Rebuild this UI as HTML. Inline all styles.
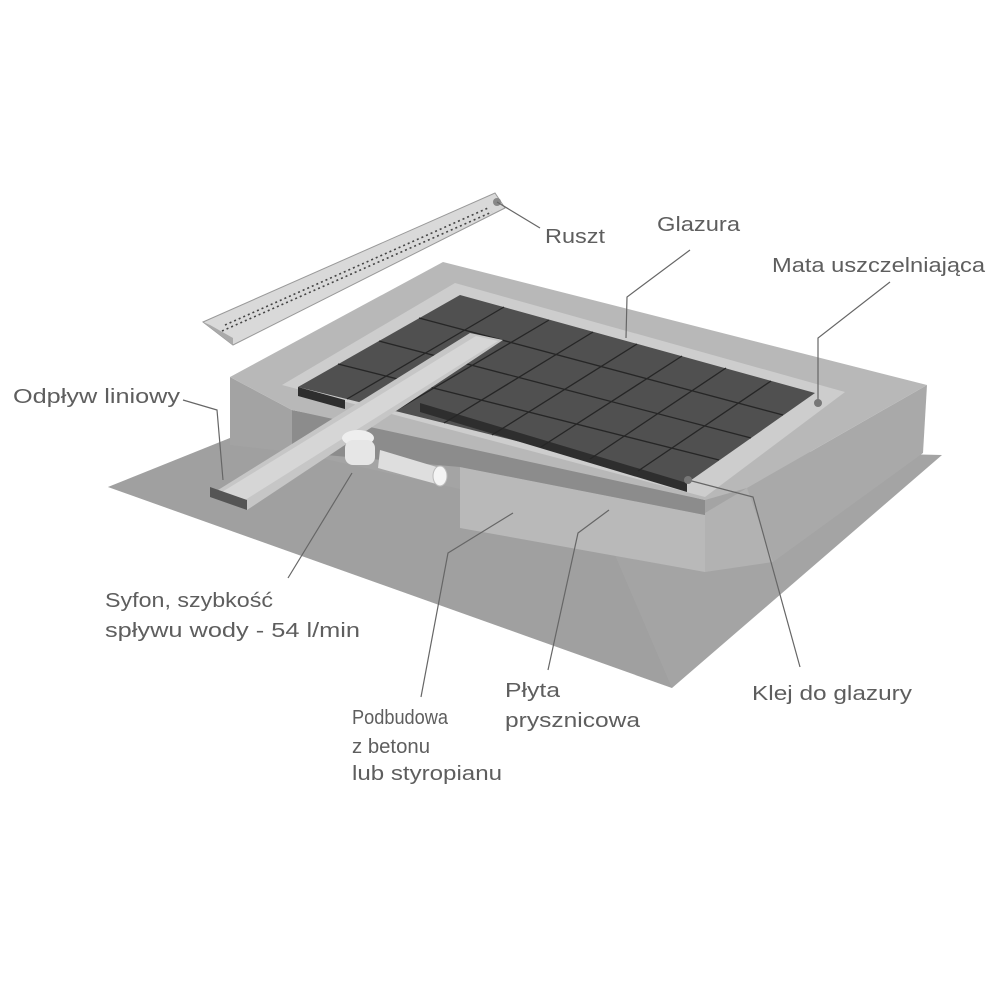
<!DOCTYPE html>
<html><head><meta charset="utf-8"><style>
html,body{margin:0;padding:0;background:#fff;}
svg{display:block}
text{font-family:"Liberation Sans",sans-serif;font-size:20px;fill:#5e5e5e;}
</style></head><body>
<svg width="1000" height="1000" viewBox="0 0 1000 1000" xmlns="http://www.w3.org/2000/svg">
<!-- floor -->
<polygon points="108,487 230,438 942,455 672,688" fill="#a4a4a4"/>
<polygon points="108,487 230,438 600,520 672,688" fill="#9a9a9a" opacity="0.4"/>
<!-- box right face -->
<polygon points="747,488 927,385 923,453 773,562 747,560" fill="#a9a9a9"/>
<!-- concrete front (podbudowa) -->
<polygon points="460,467 705,515 705,572 460,528" fill="#b9b9b9"/>
<polygon points="705,513 747,488 773,562 705,572" fill="#b2b2b2"/>
<!-- recess under tiles -->
<polygon points="292,410 470,445 705,500 705,515 460,467 292,452" fill="#8c8c8c"/>
<polygon points="420,410 705,478 705,500 430,432" fill="#d4d4d4"/>
<!-- left block front -->
<polygon points="230,377 292,410 292,452 230,445" fill="#a3a3a3"/>
<!-- box top -->
<polygon points="230,377 443,262 927,385 747,488 705,500 292,410" fill="#b8b8b8"/>
<!-- mata -->
<polygon points="282,385 455,283 845,392 705,497" fill="#cdcdcd"/>
<!-- tiles -->
<polygon points="298,387 460,295 815,393 687,483" fill="#505050"/>
<polygon points="420,403 687,483 687,492 420,412" fill="#2e2e2e"/>
<polygon points="298,387 345,400 345,409 298,396" fill="#2e2e2e"/>
<g stroke="#262626" stroke-width="1.3">
<line x1="504" y1="307" x2="347" y2="399"/>
<line x1="549" y1="320" x2="395" y2="411"/>
<line x1="593" y1="332" x2="444" y2="423"/>
<line x1="637" y1="344" x2="492" y2="435"/>
<line x1="682" y1="356" x2="541" y2="447"/>
<line x1="726" y1="368" x2="590" y2="459"/>
<line x1="771" y1="381" x2="638" y2="471"/>
<line x1="419" y1="318" x2="783" y2="415"/>
<line x1="379" y1="341" x2="751" y2="438"/>
<line x1="338" y1="364" x2="719" y2="460"/>
</g>
<!-- drain -->
<polygon points="470,333 503,340 247,510 210,495" fill="#c6c6c6"/>
<polygon points="476,336 498,341 245,500 222,492" fill="#d6d6d6"/>
<polygon points="210,487 247,500 247,510 210,497" fill="#555"/>
<!-- siphon -->
<ellipse cx="358" cy="438" rx="16" ry="8" fill="#eee"/>
<rect x="345" y="440" width="30" height="25" rx="8" fill="#e6e6e6"/>
<polygon points="380,450 440,468 440,485 378,468" fill="#dedede"/>
<ellipse cx="440" cy="476" rx="7" ry="10" fill="#f4f4f4" stroke="#bbb"/>
<!-- grate -->
<polygon points="203,322 495,193 505,208 233,345" fill="#d9d9d9" stroke="#999" stroke-width="1"/>
<polygon points="203,322 233,345 233,338 210,325" fill="#aaa"/>
<g stroke="#444" stroke-width="1.6" stroke-dasharray="2,3">
<line x1="225" y1="325" x2="488" y2="208"/>
<line x1="222" y1="331" x2="492" y2="212"/>
</g>
<circle cx="497" cy="202" r="4" fill="#888"/>
<!-- leaders -->
<g stroke="#666" stroke-width="1.2" fill="none">
<polyline points="497,202 540,228"/>
<polyline points="690,250 627,297 626,338"/>
<polyline points="890,282 818,338 818,403"/>
<polyline points="183,400 217,410 223,480"/>
<polyline points="288,578 352,473"/>
<polyline points="421,697 448,553 513,513"/>
<polyline points="548,670 578,533 609,510"/>
<polyline points="800,667 753,497 688,480"/>
</g>
<circle cx="818" cy="403" r="4" fill="#777"/>
<circle cx="688" cy="480" r="4" fill="#777"/>
<!-- labels -->
<g>
<text x="545" y="243" textLength="60" lengthAdjust="spacingAndGlyphs">Ruszt</text>
<text x="657" y="231" textLength="83" lengthAdjust="spacingAndGlyphs">Glazura</text>
<text x="772" y="272" textLength="213" lengthAdjust="spacingAndGlyphs">Mata uszczelniająca</text>
<text x="13" y="403" textLength="167" lengthAdjust="spacingAndGlyphs">Odpływ liniowy</text>
<text x="105" y="607" textLength="168" lengthAdjust="spacingAndGlyphs">Syfon, szybkość</text>
<text x="105" y="637" textLength="255" lengthAdjust="spacingAndGlyphs">spływu wody - 54 l/min</text>
<text x="352" y="724" textLength="96" lengthAdjust="spacingAndGlyphs">Podbudowa</text>
<text x="352" y="753" textLength="78" lengthAdjust="spacingAndGlyphs">z betonu</text>
<text x="352" y="780" textLength="150" lengthAdjust="spacingAndGlyphs">lub styropianu</text>
<text x="505" y="697" textLength="55" lengthAdjust="spacingAndGlyphs">Płyta</text>
<text x="505" y="727" textLength="135" lengthAdjust="spacingAndGlyphs">prysznicowa</text>
<text x="752" y="700" textLength="160" lengthAdjust="spacingAndGlyphs">Klej do glazury</text>
</g>
</svg>
</body></html>
